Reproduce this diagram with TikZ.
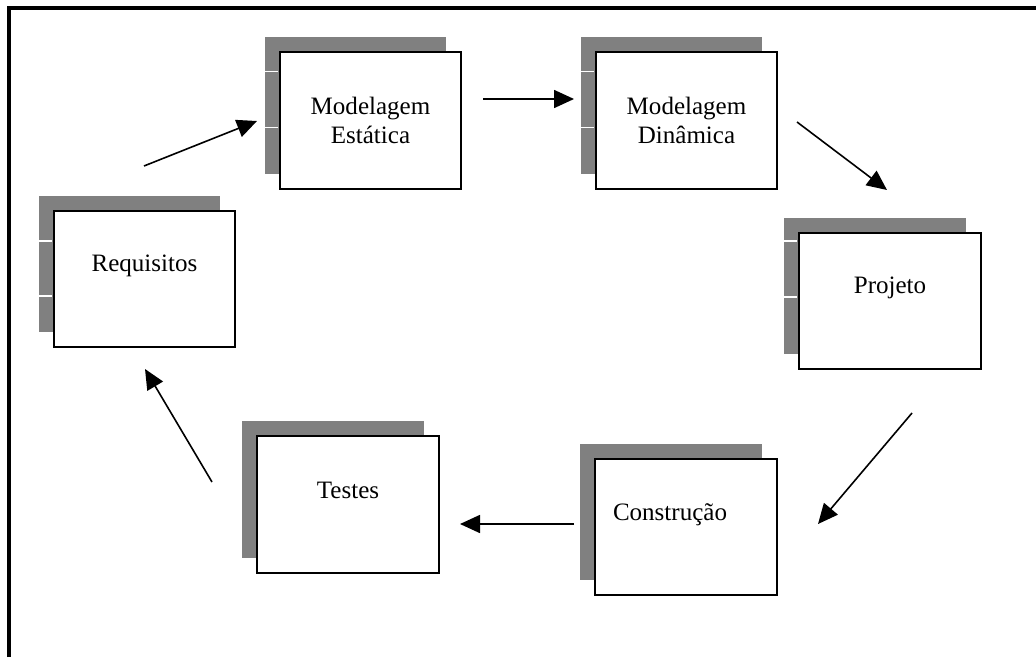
\documentclass[tikz,border=0pt]{standalone}
\usepackage{fontspec}
\setmainfont{Liberation Serif}
\usetikzlibrary{arrows.meta,shadows}
\tikzset{
    stage/.style={draw=black, fill=white, line width=0.05cm, inner sep=0pt,
        minimum width=4.54cm, minimum height=3.4cm,
        general shadow={fill=gray, draw=none, shadow xshift=-0.375cm, shadow yshift=0.375cm}},
    stagetext/.style={font=\fontsize{17.8}{20.6}\selectfont, align=center, inner sep=0pt},
    flow/.style={-{Triangle[length=0.5cm,width=0.45cm]}, line width=0.04cm},
}
\begin{document}
\begin{tikzpicture}[x=0.025cm,y=-0.025cm]
        \useasboundingbox (0,0) rectangle (1036,657);
        \draw[line width=0.1cm] (9,657) -- (9,8) -- (1036,8);
        \node[stage] (req) at (144.5,279) {};
        \node[stage] (est) at (370.5,120.5) {};
        \node[stage] (din) at (686.5,120.5) {};
        \node[stage] (proj) at (890,301) {};
        \node[stage] (cons) at (686,527) {};
        \node[stage] (test) at (348,504.5) {};
        \foreach \n/\a/\b in {req/31/86, est/20/76, din/20/76, proj/9/65}
            \foreach \d in {\a,\b}
                \draw[white, line width=0.03cm] ([shift={(-15,\d)}]\n.north west) -- ([shift={(-1,\d)}]\n.north west);
        \node[stagetext] (reqt) at ([shift={(0,-13)}]req.center) {Requisitos};
        \node[stagetext] (estt) at (est.center) {Modelagem\\Estática};
        \node[stagetext] (dint) at (din.center) {Modelagem\\Dinâmica};
        \node[stagetext] (projt) at ([shift={(0,-13)}]proj.center) {Projeto};
        \node[stagetext] (const) at ([shift={(-16,-12)}]cons.center) {Construção};
        \node[stagetext] (testt) at ([shift={(0,-14)}]test.center) {Testes};
        \coordinate (r1) at (144,166);
        \coordinate (e0) at (257,121);
        \coordinate (e1) at (483,99);
        \coordinate (d0) at (574,99);
        \coordinate (d1) at (797,122);
        \coordinate (p0) at (887,190);
        \coordinate (p1) at (912,413);
        \coordinate (c0) at (818,524);
        \coordinate (c1) at (574,524);
        \coordinate (t0) at (460,524);
        \coordinate (t1) at (212,482);
        \coordinate (r0) at (145,369);
        \draw[flow] (r1) -- (e0);
        \draw[flow] (e1) -- (d0);
        \draw[flow] (d1) -- (p0);
        \draw[flow] (p1) -- (c0);
        \draw[flow] (c1) -- (t0);
        \draw[flow] (t1) -- (r0);
    \end{tikzpicture}
\end{document}
